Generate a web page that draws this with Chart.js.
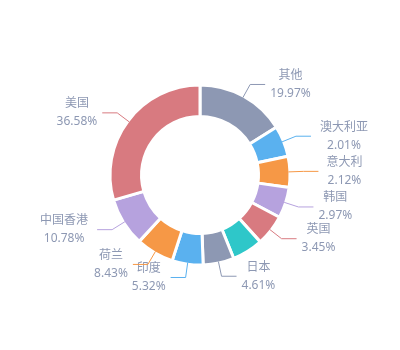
<!DOCTYPE html>
<html>
<head>
<meta charset="utf-8">
<script src="https://cdn.jsdelivr.net/npm/chart.js@4/dist/chart.umd.min.js"></script>
<style>
  html, body { margin: 0; padding: 0; background: #fff; }
  #wrap { width: 400px; height: 350px; }
</style>
</head>
<body>
<div id="wrap"><canvas id="pie" width="400" height="350"></canvas></div>
<script>
// share by region, clockwise from 12 o'clock
const regions = ["其他", "澳大利亚", "意大利", "韩国", "英国", "德国", "日本", "印度", "荷兰", "中国香港", "美国"];
const shares = [19.97, 2.01, 2.12, 2.97, 3.45, 3.76, 4.61, 5.32, 8.43, 10.78, 36.58];
const colors = ["#8d98b3", "#5ab1ef", "#f69846", "#b6a2de", "#d87a80", "#2ec7c9", "#8d98b3", "#5ab1ef", "#f69846", "#b6a2de", "#d87a80"];
const hiddenLabels = ["德国"];

const MIN_ANGLE = 20; // degrees, small slices are widened up to this

// widen tiny slices to MIN_ANGLE, share the rest of the circle among the others
function sliceAngles(values) {
  const total = values.reduce((a, b) => a + b, 0);
  let rest = 360, bigSum = 0;
  const small = values.map(v => {
    const a = v / total * 360;
    if (a < MIN_ANGLE) { rest -= MIN_ANGLE; return true; }
    bigSum += v;
    return false;
  });
  return values.map((v, i) => small[i] ? MIN_ANGLE : v / bigSum * rest);
}

const LINE1 = 15, LINE2 = 15, GAP = 5;
const font12 = '12px "Noto Sans", "Noto Sans CJK SC", sans-serif';
const font14 = '14px "Noto Sans", "Noto Sans CJK SC", sans-serif';

const outsideLabels = {
  id: "outsideLabels",
  afterDatasetsDraw(chart) {
    const ctx = chart.ctx;
    const meta = chart.getDatasetMeta(0);
    const bw = chart.data.datasets[0].borderWidth;
    ctx.save();
    meta.data.forEach((arc, i) => {
      const name = regions[i];
      if (hiddenLabels.includes(name)) return;
      const mid = (arc.startAngle + arc.endAngle) / 2;
      const dx = Math.cos(mid), dy = Math.sin(mid);
      const r = arc.outerRadius - bw / 2;
      const x0 = arc.x + r * dx, y0 = arc.y + r * dy;
      const x1 = arc.x + (r + LINE1) * dx, y1 = arc.y + (r + LINE1) * dy;
      const right = dx >= 0;
      const x2 = x1 + (right ? LINE2 : -LINE2);

      ctx.strokeStyle = colors[i];
      ctx.lineWidth = 1;
      ctx.beginPath();
      ctx.moveTo(x0, y0);
      ctx.lineTo(x1, y1);
      ctx.lineTo(x2, y1);
      ctx.stroke();

      const pct = shares[i].toFixed(2) + "%";
      ctx.font = font14;
      const nameW = ctx.measureText(name).width;
      ctx.font = font12;
      const pctW = ctx.measureText(pct).width;
      const w = Math.max(nameW, pctW);
      const left = right ? x2 + GAP : x2 - GAP - w;
      const cx = left + w / 2;

      ctx.fillStyle = "#8d98b3";
      ctx.textAlign = "center";
      ctx.textBaseline = "middle";
      ctx.fillText(name, cx, y1 - 9);
      ctx.fillText(pct, cx, y1 + 9);
    });
    ctx.restore();
  }
};

new Chart(document.getElementById("pie"), {
  type: "doughnut",
  data: {
    labels: regions,
    datasets: [{
      data: sliceAngles(shares),
      backgroundColor: colors,
      borderColor: "#fff",
      borderWidth: 3,
      radius: 90,
      cutout: "65%"
    }]
  },
  options: {
    responsive: false,
    animation: false,
    events: [],
    plugins: {
      legend: { display: false },
      tooltip: { enabled: false }
    }
  },
  plugins: [outsideLabels]
});
</script>
</body>
</html>
